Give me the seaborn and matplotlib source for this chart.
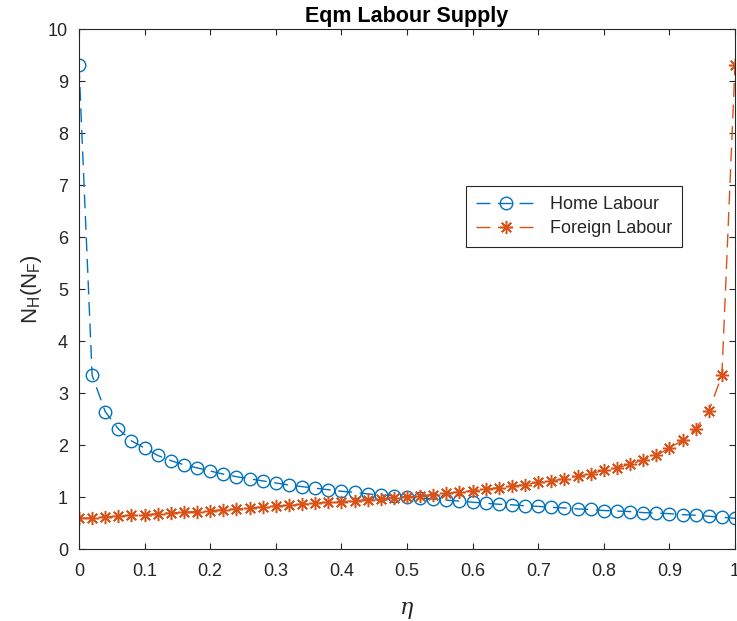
import numpy as np
import pandas as pd
import matplotlib
matplotlib.use("Agg")
import matplotlib.pyplot as plt
import seaborn as sns

# ---- data ----
eta = [round(0.02 * i, 2) for i in range(51)]
home_labour = [9.30, 3.34, 2.64, 2.31, 2.08, 1.94, 1.80, 1.70, 1.62, 1.56,
               1.50, 1.44, 1.39, 1.35, 1.31, 1.27, 1.23, 1.20, 1.17, 1.14,
               1.11, 1.09, 1.06, 1.04, 1.02, 1.00, 0.98, 0.96, 0.94, 0.92,
               0.90, 0.88, 0.86, 0.85, 0.83, 0.82, 0.80, 0.79, 0.77, 0.76,
               0.74, 0.73, 0.72, 0.70, 0.69, 0.68, 0.66, 0.65, 0.63, 0.61,
               0.59]
foreign_labour = [0.59, 0.60, 0.62, 0.63, 0.65, 0.66, 0.68, 0.69, 0.71, 0.72,
                  0.74, 0.75, 0.77, 0.79, 0.81, 0.83, 0.84, 0.86, 0.88, 0.90,
                  0.91, 0.93, 0.95, 0.97, 0.99, 1.00, 1.02, 1.04, 1.07, 1.10,
                  1.12, 1.15, 1.18, 1.21, 1.24, 1.28, 1.31, 1.35, 1.40, 1.45,
                  1.51, 1.56, 1.63, 1.71, 1.80, 1.94, 2.09, 2.31, 2.65, 3.34,
                  9.30]
x_ticks = [0, 0.1, 0.2, 0.3, 0.4, 0.5, 0.6, 0.7, 0.8, 0.9, 1]
x_tick_labels = ["0", "0.1", "0.2", "0.3", "0.4", "0.5", "0.6", "0.7", "0.8", "0.9", "1"]
y_ticks = list(range(0, 11))

df = pd.DataFrame({"eta": eta, "home": home_labour, "foreign": foreign_labour})

sns.set_style("ticks")
plt.rcParams["font.family"] = ["Liberation Sans", "DejaVu Sans"]
plt.rcParams["mathtext.fontset"] = "dejavusans"

BLUE = "#0072BD"
ORANGE = "#D95319"
AX = "#262626"
DASH = (0, (10, 5.5))

fig = plt.figure(figsize=(7.37, 6.21), dpi=100, facecolor="white")
ax = fig.add_axes([79 / 737, 72 / 621, 656 / 737, 520 / 621])
ax.set_facecolor("white")

sns.lineplot(data=df, x="eta", y="home", ax=ax, color=BLUE, linestyle=DASH,
             linewidth=1.0, marker="o", markersize=9, markerfacecolor="none",
             markeredgecolor=BLUE, markeredgewidth=1.0, label="Home Labour",
             estimator=None, sort=False)
sns.lineplot(data=df, x="eta", y="foreign", ax=ax, color=ORANGE, linestyle=DASH,
             linewidth=1.0, marker=(8, 2, 0), markersize=9.5,
             markeredgecolor=ORANGE, markeredgewidth=1.1, label="Foreign Labour",
             estimator=None, sort=False)

ax.set_xlim(0, 1)
ax.set_ylim(0, 10)
ax.set_xticks(x_ticks)
ax.set_xticklabels(x_tick_labels)
ax.set_yticks(y_ticks)
ax.set_yticklabels([str(v) for v in y_ticks])

for s in ax.spines.values():
    s.set_visible(True)
    s.set_color(AX)
    s.set_linewidth(0.8)
ax.tick_params(direction="in", length=4, width=0.8, colors=AX, labelsize=13,
               top=True, right=True, labelcolor=AX)
ax.tick_params(axis="x", pad=10)
ax.tick_params(axis="y", pad=8)

ax.set_title("Eqm Labour Supply", fontsize=15.5, fontweight="bold", color="black", pad=5)
ax.set_xlabel("η", fontsize=16, color=AX, labelpad=12,
              family=["DejaVu Serif"], style="italic")
ax.set_ylabel(r"$\mathregular{N_H(N_F)}$", fontsize=16, color=AX, labelpad=3)

leg = ax.legend(loc="upper left", bbox_to_anchor=(0.590, 0.698), fontsize=13,
                frameon=True, fancybox=False, framealpha=1, edgecolor=AX,
                handlelength=3.3, borderpad=0.55, labelspacing=0.4,
                borderaxespad=0)
leg.get_frame().set_linewidth(0.8)

fig.savefig("out.png", dpi=100, facecolor="white")
